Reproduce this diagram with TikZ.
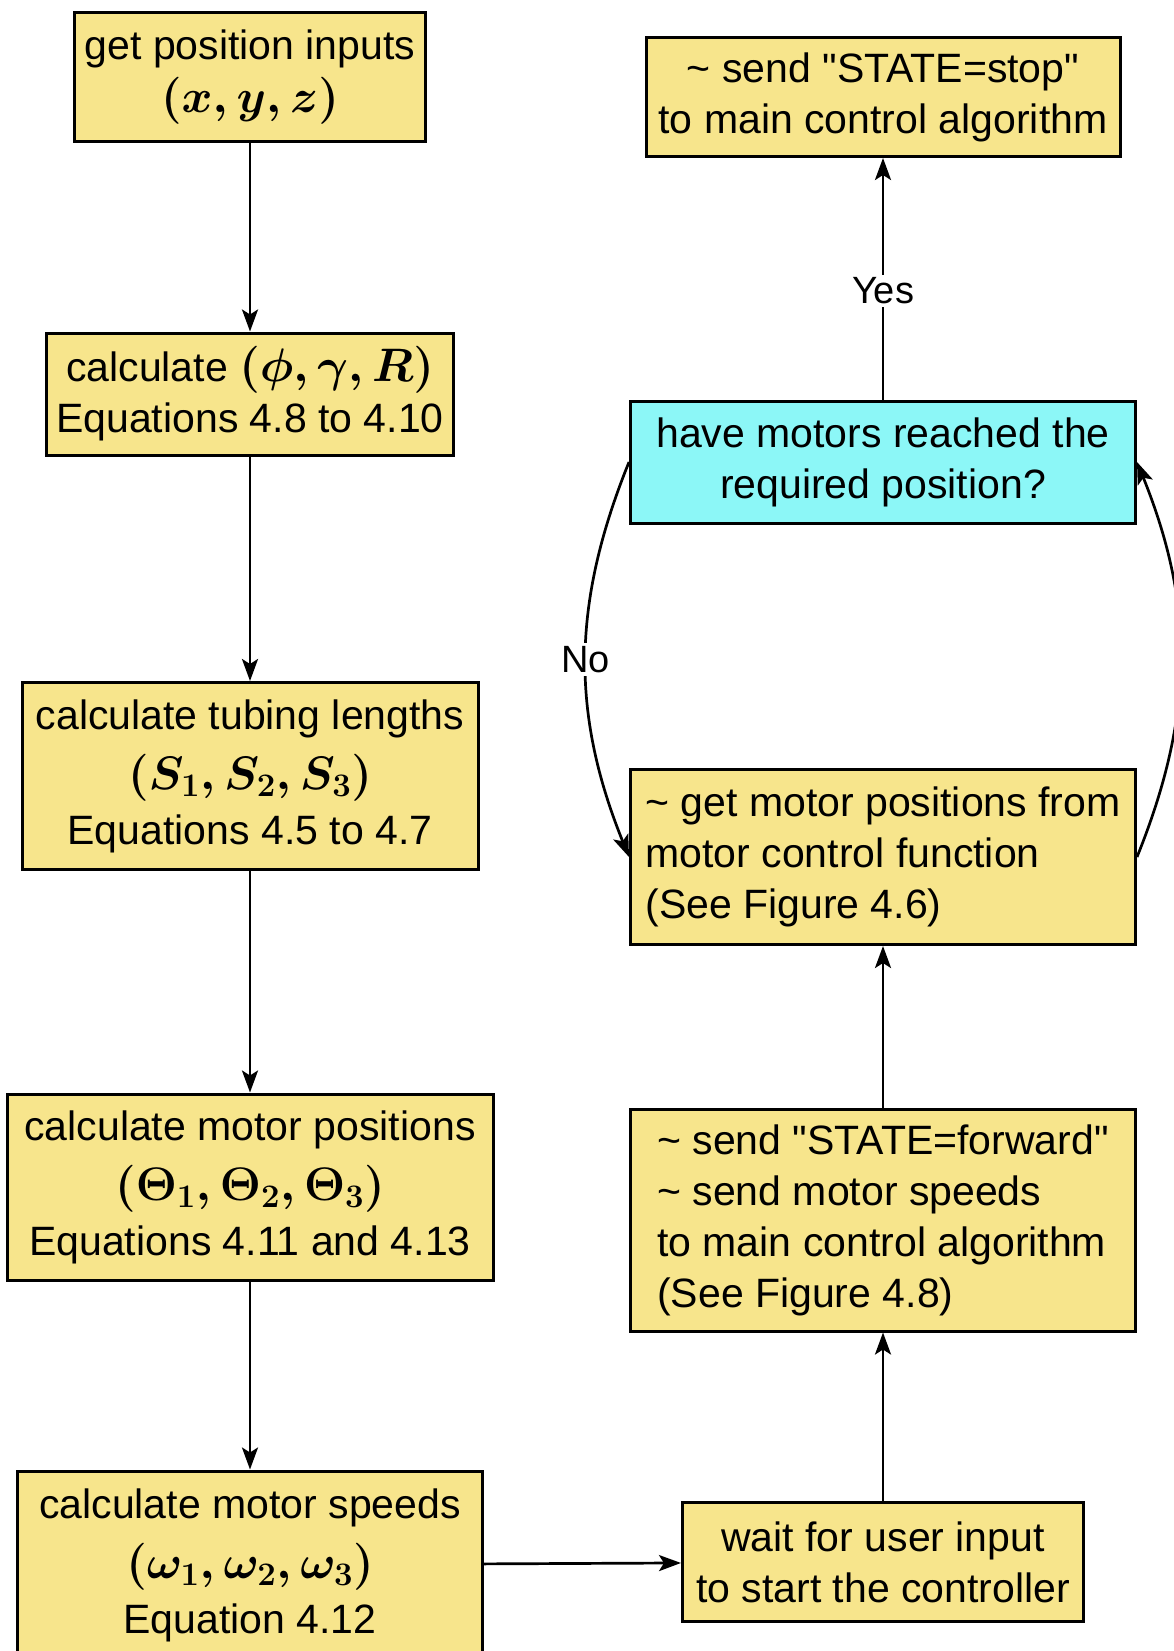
\RequirePackage{fix-cm}
\documentclass[tikz,border=0pt]{standalone}
\usepackage{fontspec}
\setmainfont{Liberation Sans}[Ligatures=TeXOff]
\usetikzlibrary{arrows.meta}

\definecolor{boxyellow}{RGB}{247,229,140}
\definecolor{boxcyan}{RGB}{140,247,247}
\newcommand{\mathrow}[1]{{\fontsize{47}{51}\selectfont\boldmath$#1$}}

\begin{document}
\begin{tikzpicture}[x=1pt,y=-1pt,
	flowbox/.style={draw,line width=3pt,fill=boxyellow,align=center,inner sep=0pt,font=\fontsize{41}{51}\selectfont},
	askbox/.style={flowbox,fill=boxcyan},
	flow/.style={line width=2.7pt,-{Stealth[length=22pt,width=16pt,inset=5pt]}},
	answer/.style={fill=white,inner sep=3pt,font=\fontsize{38}{44}\selectfont}]
	
	\useasboundingbox (0,0) rectangle (1173,1651);
	
	% left column
	\node [flowbox,minimum width=351,minimum height=129] (inputs) at (250,77)
		{get position inputs\\[2pt] \mathrow{(x,y,z)}};
	\node [flowbox,minimum width=407,minimum height=122] (angles) at (250,394)
		{calculate \mathrow{(\phi,\gamma,R)}\\ Equations 4.8 to 4.10};
	\node [flowbox,minimum width=456,minimum height=187] (tubing) at (250,776)
		{calculate tubing lengths\\[9pt] \mathrow{(S_1,S_2,S_3)}\\[4pt] Equations 4.5 to 4.7};
	\node [flowbox,minimum width=486,minimum height=186] (motpos) at (250,1187)
		{calculate motor positions\\[9pt] \mathrow{(\Theta_1,\Theta_2,\Theta_3)}\\[4pt] Equations 4.11 and 4.13};
	\node [flowbox,minimum width=465,minimum height=188] (motspd) at (250,1565)
		{calculate motor speeds\\[9pt] \mathrow{(\omega_1,\omega_2,\omega_3)}\\[4pt] Equation 4.12};
	
	% right column
	\node [flowbox,minimum width=401,minimum height=119] (waitin) at (883,1562)
		{wait for user input\\ to start the controller};
	\node [flowbox,align=left,minimum width=505,minimum height=222] (sendfwd) at (883,1220)
		{\textasciitilde\ send "STATE=forward"\\ \textasciitilde\ send motor speeds\\ to main control algorithm\\ (See Figure 4.8)};
	\node [flowbox,align=left,minimum width=505,minimum height=175] (getpos) at (883,857)
		{\textasciitilde\ get motor positions from\\ motor control function\\ (See Figure 4.6)};
	\node [askbox,minimum width=505,minimum height=122] (reached) at (883,462)
		{have motors reached the\\ required position?};
	\node [flowbox,minimum width=474,minimum height=119] (sendstop) at (883,97)
		{\textasciitilde\ send "STATE=stop"\\ to main control algorithm};
	
	% arrows
	\draw [flow] (inputs) -- (angles);
	\draw [flow] (angles) -- (tubing);
	\draw [flow] (tubing) -- (motpos);
	\draw [flow] (motpos) -- (motspd);
	\draw [flow] (motspd) -- (waitin);
	\draw [flow] (waitin) -- (sendfwd);
	\draw [flow] (sendfwd) -- (getpos);
	\draw [flow] (reached) -- node [answer,pos=0.45] {Yes} (sendstop);
	\draw [flow] (reached.west) to [bend right=22] node [answer] {No} (getpos.west);
	\draw [flow] (getpos.east) to [bend right=22] (reached.east);
	
\end{tikzpicture}
\end{document}
